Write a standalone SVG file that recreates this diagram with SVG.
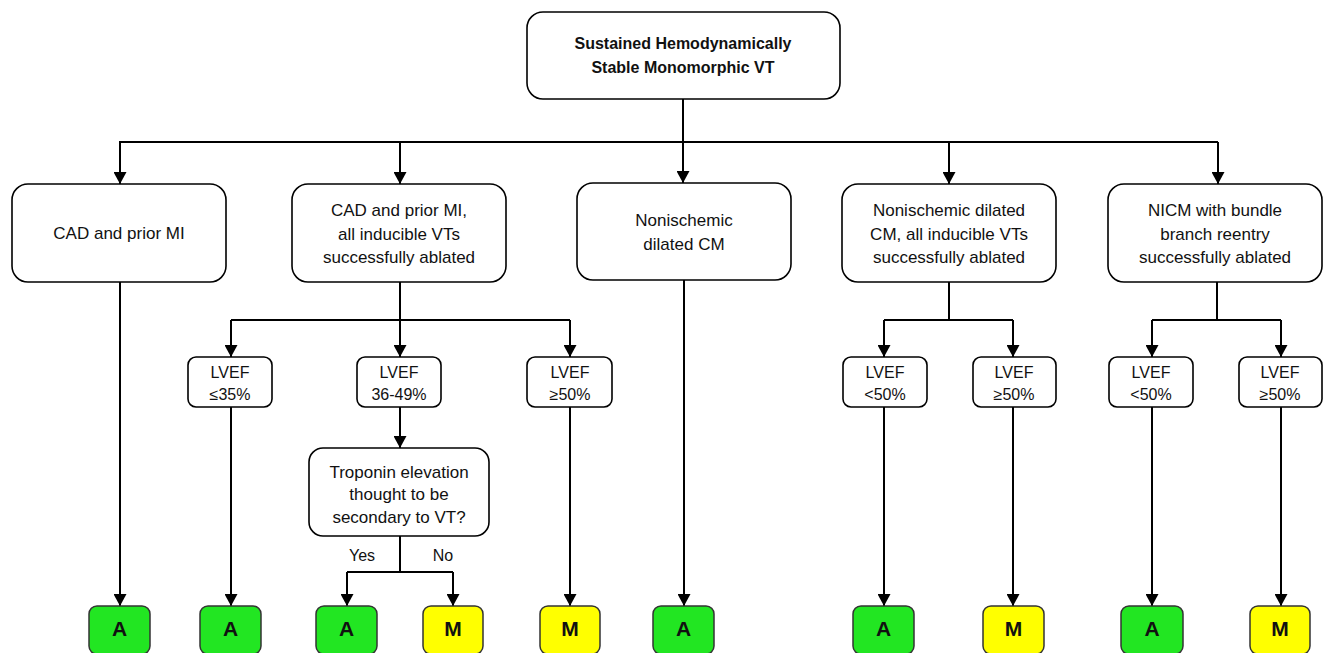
<svg xmlns="http://www.w3.org/2000/svg" width="1323" height="653" viewBox="0 0 1323 653">
<style>
.box{fill:#fff;stroke:#000;stroke-width:1.6}
.t{font-family:"Liberation Sans",Arial,sans-serif;font-size:17px;fill:#111;text-anchor:middle}
.tb{font-family:"Liberation Sans",Arial,sans-serif;font-size:16px;font-weight:bold;fill:#111;text-anchor:middle}
.lv{font-family:"Liberation Sans",Arial,sans-serif;font-size:16px;fill:#111;text-anchor:middle}
.res{font-family:"Liberation Sans",Arial,sans-serif;font-size:21px;font-weight:bold;fill:#111;text-anchor:middle}
.ga{fill:#22e622;stroke:#333;stroke-width:1.5}
.ym{fill:#ffff00;stroke:#333;stroke-width:1.5}
.c{fill:none;stroke:#000;stroke-width:2}
.a{fill:none;stroke:#000;stroke-width:2;marker-end:url(#ah)}
</style>
<defs>
<marker id="ah" markerUnits="userSpaceOnUse" markerWidth="13" markerHeight="13" refX="12" refY="6.5" orient="auto" viewBox="0 0 12 13">
<path d="M0,0 L12,6.5 L0,13 z" fill="#000"/>
</marker>
</defs>
<rect width="1323" height="653" fill="#fff"/>

<g id="connectors">
<line class="c" x1="683" y1="99" x2="683" y2="142"/>
<line class="c" x1="119" y1="142" x2="1218" y2="142"/>
<line class="a" x1="120" y1="142" x2="120" y2="184"/>
<line class="a" x1="400" y1="142" x2="400" y2="184"/>
<line class="a" x1="683" y1="142" x2="683" y2="183"/>
<line class="a" x1="949" y1="142" x2="949" y2="184"/>
<line class="a" x1="1218" y1="142" x2="1218" y2="184"/>

<line class="a" x1="120" y1="282" x2="120" y2="606"/>
<line class="a" x1="684" y1="280" x2="684" y2="606"/>

<line class="c" x1="400" y1="282" x2="400" y2="320"/>
<line class="c" x1="231" y1="320" x2="570" y2="320"/>
<line class="a" x1="231" y1="320" x2="231" y2="357"/>
<line class="a" x1="400" y1="320" x2="400" y2="357"/>
<line class="a" x1="570" y1="320" x2="570" y2="357"/>
<line class="a" x1="231" y1="407" x2="231" y2="606"/>
<line class="a" x1="570" y1="407" x2="570" y2="606"/>
<line class="a" x1="400" y1="407" x2="400" y2="448"/>
<line class="c" x1="400" y1="536" x2="400" y2="572"/>
<line class="c" x1="347" y1="572" x2="453" y2="572"/>
<line class="a" x1="347" y1="572" x2="347" y2="606"/>
<line class="a" x1="453" y1="572" x2="453" y2="606"/>

<line class="c" x1="949" y1="282" x2="949" y2="320"/>
<line class="c" x1="884" y1="320" x2="1013" y2="320"/>
<line class="a" x1="884" y1="320" x2="884" y2="357"/>
<line class="a" x1="1013" y1="320" x2="1013" y2="357"/>
<line class="a" x1="884" y1="407" x2="884" y2="606"/>
<line class="a" x1="1013" y1="407" x2="1013" y2="606"/>

<line class="c" x1="1217" y1="282" x2="1217" y2="320"/>
<line class="c" x1="1152" y1="320" x2="1281" y2="320"/>
<line class="a" x1="1152" y1="320" x2="1152" y2="357"/>
<line class="a" x1="1281" y1="320" x2="1281" y2="357"/>
<line class="a" x1="1152" y1="407" x2="1152" y2="606"/>
<line class="a" x1="1281" y1="407" x2="1281" y2="606"/>
</g>

<g id="n-root">
<rect class="box" x="527" y="12" width="313" height="87" rx="16"/>
<text class="tb" x="683" y="49">Sustained Hemodynamically</text>
<text class="tb" x="683" y="73">Stable Monomorphic VT</text>
</g>

<g id="n-cad">
<rect class="box" x="12" y="184" width="214" height="98" rx="16"/>
<text class="t" x="119" y="239">CAD and prior MI</text>
</g>
<g id="n-cad-abl">
<rect class="box" x="292" y="184" width="214" height="98" rx="16"/>
<text class="t" x="399" y="216">CAD and prior MI,</text>
<text class="t" x="399" y="240">all inducible VTs</text>
<text class="t" x="399" y="263">successfully ablated</text>
</g>
<g id="n-nidcm">
<rect class="box" x="577" y="183" width="214" height="97" rx="16"/>
<text class="t" x="684" y="226">Nonischemic</text>
<text class="t" x="684" y="250">dilated CM</text>
</g>
<g id="n-nidcm-abl">
<rect class="box" x="842" y="184" width="214" height="98" rx="16"/>
<text class="t" x="949" y="216">Nonischemic dilated</text>
<text class="t" x="949" y="240">CM, all inducible VTs</text>
<text class="t" x="949" y="263">successfully ablated</text>
</g>
<g id="n-nicm-bbr">
<rect class="box" x="1108" y="184" width="214" height="98" rx="16"/>
<text class="t" x="1215" y="216">NICM with bundle</text>
<text class="t" x="1215" y="240">branch reentry</text>
<text class="t" x="1215" y="263">successfully ablated</text>
</g>

<g id="n-lvef35">
<rect class="box" x="188" y="357" width="84" height="50" rx="8"/>
<text class="lv" x="230" y="378">LVEF</text>
<text class="lv" x="230" y="400">≤35%</text>
</g>
<g id="n-lvef3649">
<rect class="box" x="357" y="357" width="84" height="50" rx="8"/>
<text class="lv" x="399" y="378">LVEF</text>
<text class="lv" x="399" y="400">36-49%</text>
</g>
<g id="n-lvef50a">
<rect class="box" x="527" y="357" width="85" height="50" rx="8"/>
<text class="lv" x="570" y="378">LVEF</text>
<text class="lv" x="570" y="400">≥50%</text>
</g>
<g id="n-lvef50lt-b">
<rect class="box" x="843" y="357" width="84" height="50" rx="8"/>
<text class="lv" x="885" y="378">LVEF</text>
<text class="lv" x="885" y="400">&lt;50%</text>
</g>
<g id="n-lvef50ge-b">
<rect class="box" x="973" y="357" width="83" height="50" rx="8"/>
<text class="lv" x="1014" y="378">LVEF</text>
<text class="lv" x="1014" y="400">≥50%</text>
</g>
<g id="n-lvef50lt-c">
<rect class="box" x="1109" y="357" width="84" height="50" rx="8"/>
<text class="lv" x="1151" y="378">LVEF</text>
<text class="lv" x="1151" y="400">&lt;50%</text>
</g>
<g id="n-lvef50ge-c">
<rect class="box" x="1239" y="357" width="83" height="50" rx="8"/>
<text class="lv" x="1280" y="378">LVEF</text>
<text class="lv" x="1280" y="400">≥50%</text>
</g>

<g id="n-troponin">
<rect class="box" x="309" y="448" width="180" height="88" rx="14"/>
<text class="t" x="399" y="478">Troponin elevation</text>
<text class="t" x="399" y="500">thought to be</text>
<text class="t" x="399" y="523">secondary to VT?</text>
</g>
<g id="labels">
<text class="lv" x="362" y="561">Yes</text>
<text class="lv" x="443" y="561">No</text>
</g>

<g id="r1"><rect class="ga" x="89" y="606" width="61" height="48" rx="8"/><text class="res" x="119.5" y="636">A</text></g>
<g id="r2"><rect class="ga" x="200" y="606" width="61" height="48" rx="8"/><text class="res" x="230.5" y="636">A</text></g>
<g id="r3"><rect class="ga" x="316" y="606" width="61" height="48" rx="8"/><text class="res" x="346.5" y="636">A</text></g>
<g id="r4"><rect class="ym" x="423" y="606" width="60" height="48" rx="8"/><text class="res" x="453" y="636">M</text></g>
<g id="r5"><rect class="ym" x="540" y="606" width="60" height="48" rx="8"/><text class="res" x="570" y="636">M</text></g>
<g id="r6"><rect class="ga" x="653" y="606" width="61" height="48" rx="8"/><text class="res" x="683.5" y="636">A</text></g>
<g id="r7"><rect class="ga" x="853" y="606" width="61" height="48" rx="8"/><text class="res" x="883.5" y="636">A</text></g>
<g id="r8"><rect class="ym" x="983" y="606" width="61" height="48" rx="8"/><text class="res" x="1013.5" y="636">M</text></g>
<g id="r9"><rect class="ga" x="1121" y="606" width="62" height="48" rx="8"/><text class="res" x="1152" y="636">A</text></g>
<g id="r10"><rect class="ym" x="1250" y="606" width="60" height="48" rx="8"/><text class="res" x="1280" y="636">M</text></g>
</svg>
